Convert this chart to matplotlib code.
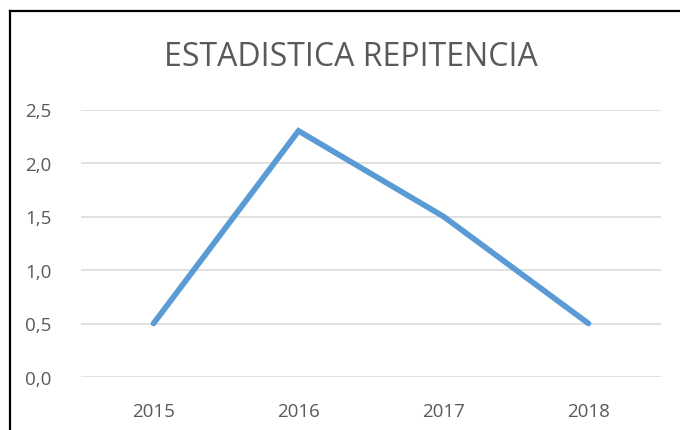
import matplotlib
matplotlib.use("Agg")
import matplotlib.pyplot as plt
from matplotlib.lines import Line2D

years = ["2015", "2016", "2017", "2018"]
values = [0.5, 2.3, 1.5, 0.5]
yticks = [0.0, 0.5, 1.0, 1.5, 2.0, 2.5]
ytick_labels = ["0,0", "0,5", "1,0", "1,5", "2,0", "2,5"]
title = "ESTADISTICA REPITENCIA"

plt.rcParams['font.family'] = ['Open Sans', 'DejaVu Sans']
W, H = 680, 431
fig = plt.figure(figsize=(W / 100, H / 100), dpi=100)
ax = fig.add_axes([81 / W, 1 - 378 / H, 580 / W, (378 - 110.5) / H])

x = list(range(len(years)))
ax.plot(x, values, color="#5B9BD5", linewidth=4.1, solid_capstyle="round", solid_joinstyle="miter", zorder=3)
ax.set_xlim(-0.5, len(years) - 0.5)
ax.set_ylim(0, 2.5)
ax.set_yticks(yticks)
ax.set_yticklabels(ytick_labels)
ax.set_xticks(x)
ax.set_xticklabels(years)
ax.grid(axis="y", color="#D9D9D9", linewidth=1.1)
ax.set_axisbelow(True)
for s in ax.spines.values():
    s.set_visible(False)
ax.tick_params(axis="both", length=0, colors="#595959", labelsize=13.5)
ax.tick_params(axis="y", pad=21)
ax.tick_params(axis="x", pad=18)

fig.text(351 / W, 1 - 58 / H, title, ha="center", va="center", fontsize=23, color="#595959")

fig.add_artist(Line2D([9.5 / W, 9.5 / W], [0, 1 - 11.5 / H], color="black", linewidth=1.6, transform=fig.transFigure))
fig.add_artist(Line2D([9.5 / W, 1], [1 - 11.5 / H, 1 - 11.5 / H], color="black", linewidth=1.6, transform=fig.transFigure))

fig.savefig("out.png", dpi=100)
